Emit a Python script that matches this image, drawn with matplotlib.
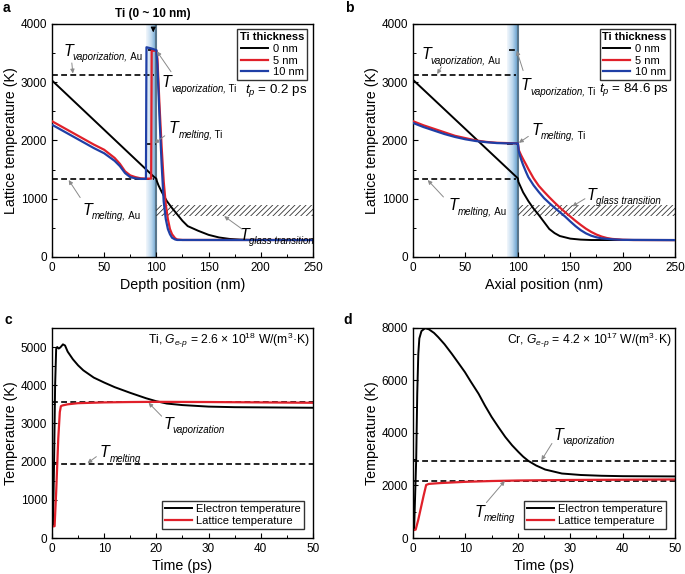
import numpy as np
import matplotlib
matplotlib.use('Agg')
import matplotlib.pyplot as plt
from matplotlib.colors import LinearSegmentedColormap

plt.rcParams['font.family'] = ['Liberation Sans', 'DejaVu Sans']
plt.rcParams['mathtext.fontset'] = 'custom'
plt.rcParams['mathtext.rm'] = 'Liberation Sans'
plt.rcParams['mathtext.it'] = 'Liberation Sans:italic'
plt.rcParams['mathtext.bf'] = 'Liberation Sans:bold'
plt.rcParams['hatch.linewidth'] = 0.6

# ---- panel a: t_p = 0.2 ps (depth position, nm / lattice temperature, K)
a_x0 = [0, 98, 99, 100, 100.5, 102, 105, 110, 115, 120, 125, 130, 140, 150, 160, 170, 180, 190, 200, 250]
a_T0 = [3030, 1370, 1360, 1340, 1300, 1230, 1120, 960, 840, 730, 620, 530, 450, 380, 335, 310, 298, 293, 292, 292]
a_x5 = [0, 10, 20, 30, 40, 50, 60, 65, 70, 75, 80, 85, 90, 95, 95.5, 100, 101, 103, 105, 107, 109, 111, 113, 115, 118, 120, 125, 250]
a_T5 = [2330, 2230, 2130, 2030, 1930, 1840, 1700, 1600, 1470, 1400, 1370, 1350, 1345, 1345, 3540, 3540, 3400, 2600, 1900, 1300, 900, 650, 480, 390, 320, 300, 292, 292]
a_x10 = [0, 10, 20, 30, 40, 50, 60, 65, 70, 75, 80, 85, 90, 90.5, 95, 100, 101, 103, 105, 107, 109, 111, 113, 115, 118, 120, 250]
a_T10 = [2270, 2170, 2070, 1970, 1870, 1780, 1650, 1560, 1440, 1370, 1350, 1340, 1340, 3600, 3580, 3550, 3300, 2400, 1600, 950, 650, 480, 390, 330, 300, 292, 290]

# ---- panel b: t_p = 84.6 ps (axial position)
b_x0 = [0, 100, 100.5, 102, 105, 110, 115, 120, 125, 130, 135, 140, 150, 160, 170, 250]
b_T0 = [3040, 1350, 1290, 1230, 1110, 960, 830, 720, 600, 480, 410, 360, 315, 298, 291, 290]
b_x5 = [0, 10, 20, 30, 40, 50, 60, 70, 80, 90, 100, 101, 103, 105, 108, 110, 115, 120, 125, 130, 135, 140, 145, 150, 155, 160, 165, 170, 175, 180, 185, 190, 200, 210, 250]
b_T5 = [2330, 2260, 2200, 2140, 2080, 2040, 2000, 1975, 1960, 1955, 1950, 1830, 1750, 1680, 1580, 1510, 1350, 1220, 1120, 1025, 935, 850, 770, 695, 620, 550, 485, 430, 385, 350, 325, 310, 296, 291, 290]
b_x10 = [0, 10, 20, 30, 40, 50, 60, 70, 80, 90, 100, 101, 103, 105, 108, 110, 115, 120, 125, 130, 135, 140, 145, 150, 155, 160, 165, 170, 175, 180, 190, 200, 250]
b_T10 = [2300, 2230, 2170, 2110, 2060, 2020, 1990, 1970, 1955, 1950, 1950, 1800, 1680, 1580, 1450, 1370, 1230, 1115, 1010, 925, 845, 770, 695, 610, 530, 460, 405, 365, 338, 320, 303, 294, 290]

# ---- panel c: Ti, two-temperature model
c_te_t = [0, 0.2, 0.4, 0.6, 0.8, 1.0, 1.3, 1.6, 2.1, 2.5, 3, 4, 5, 6, 8, 10, 12, 15, 18, 20, 22, 25, 30, 35, 40, 50]
c_te = [300, 320, 2000, 4000, 4950, 5000, 4960, 4990, 5070, 5040, 4880, 4680, 4520, 4390, 4200, 4070, 3950, 3800, 3660, 3580, 3520, 3480, 3440, 3425, 3420, 3410]
c_tl_t = [0, 0.5, 0.8, 1.0, 1.2, 1.5, 1.7, 2, 3, 5, 10, 15, 20, 30, 40, 50]
c_tl = [300, 310, 1200, 1900, 2600, 3300, 3450, 3470, 3500, 3530, 3550, 3560, 3565, 3560, 3550, 3540]

# ---- panel d: Cr
d_te_t = [0, 0.2, 0.6, 0.8, 1.0, 1.2, 1.6, 2.3, 3, 4, 4.8, 6, 7.4, 8.6, 9.9, 11, 12.5, 13.7, 15, 16.3, 17.6, 18.9, 20.1, 21, 22, 23.5, 25.2, 28.4, 32, 36, 40, 50]
d_te = [300, 300, 3000, 5500, 7000, 7600, 7880, 7990, 7950, 7810, 7650, 7380, 7013, 6680, 6316, 5960, 5494, 5050, 4608, 4220, 3848, 3530, 3278, 3100, 2937, 2760, 2608, 2456, 2400, 2370, 2355, 2345]
d_tl_t = [0, 0.5, 1, 1.5, 2, 2.5, 3, 5, 10, 15, 20, 30, 40, 50]
d_tl = [300, 320, 700, 1150, 1600, 2020, 2060, 2090, 2140, 2170, 2190, 2210, 2220, 2230]

# material constants (K)
T_melt_Au, T_vap_Au = 1337, 3129
T_melt_Ti, T_vap_Ti = 1941, 3560
T_melt_Cr, T_vap_Cr = 2180, 2944
T_glass = (700, 900)

red = '#e0202a'
blue = '#1f3fa6'
arrow_kw = dict(arrowstyle='-|>', color='#8a8a8a', lw=0.7, mutation_scale=6, shrinkA=0, shrinkB=0)
band_cmap = LinearSegmentedColormap.from_list('band', ['#f2f7fc', '#bcd8ee', '#5f9ccc'])
dash = (0, (3.5, 2))


def tlabel(ax, sub, elem, xy):
    # big italic T, italic subscript, then the upright element name
    ax.text(xy[0], xy[1], 'T', fontsize=11.5, style='italic', ha='left', va='baseline')
    s = ax.annotate(sub, xy=xy, xytext=(6.8, -3), textcoords='offset points', fontsize=7.0,
                    style='italic', ha='left', va='baseline')
    if elem:
        ax.annotate(' ' + elem, xy=(1, 0), xycoords=s, fontsize=7.0, ha='left', va='bottom')


def arrow(ax, start, end):
    ax.annotate('', xy=end, xytext=start, arrowprops=arrow_kw)


def style(ax):
    ax.tick_params(direction='in', labelsize=8.5, length=3.5, width=0.8, top=False, right=False)
    ax.tick_params(which='minor', direction='in', length=2, width=0.7, top=False, right=False)
    for sp in ax.spines.values():
        sp.set_linewidth(1.0)


fig = plt.figure(figsize=(6.85, 5.74), dpi=100)
ax_a = fig.add_axes([0.0759, 0.5523, 0.381, 0.406])
ax_b = fig.add_axes([0.603, 0.5523, 0.3825, 0.406])
ax_c = fig.add_axes([0.0759, 0.0627, 0.381, 0.366])
ax_d = fig.add_axes([0.603, 0.0627, 0.3825, 0.366])

# ---------------- a and b
for ax, xs, Ts, xlabel in [(ax_a, (a_x0, a_x5, a_x10), (a_T0, a_T5, a_T10), 'Depth position (nm)'),
                           (ax_b, (b_x0, b_x5, b_x10), (b_T0, b_T5, b_T10), 'Axial position (nm)')]:
    ax.imshow(np.linspace(0, 1, 60).reshape(1, -1), extent=[90, 100, 0, 4000], aspect='auto',
              cmap=band_cmap, zorder=0.5)
    ax.axvline(100, color='#58768c', lw=1.5, zorder=0.6)
    ax.fill_between([100, 250], T_glass[0], T_glass[1], facecolor='none', edgecolor='#333333',
                    hatch='//////', lw=0, zorder=0.7)
    ax.plot([0, 98], [T_vap_Au, T_vap_Au], ls=dash, color='k', lw=1.2, zorder=1)
    ax.plot([0, 98], [T_melt_Au, T_melt_Au], ls=dash, color='k', lw=1.2, zorder=1)
    ax.plot([90, 100], [T_melt_Ti, T_melt_Ti], ls=dash, color='k', lw=1.2, zorder=1)
    ax.plot([92, 100], [T_vap_Ti, T_vap_Ti], ls=dash, color='k', lw=1.2, zorder=1)
    ax.plot(xs[0], Ts[0], color='k', lw=1.4, label='0 nm', zorder=3)
    ax.plot(xs[1], Ts[1], color=red, lw=1.6, label='5 nm', zorder=3)
    ax.plot(xs[2], Ts[2], color=blue, lw=1.6, label='10 nm', zorder=3)
    ax.set_xlim(0, 250)
    ax.set_ylim(0, 4000)
    ax.set_xticks([0, 50, 100, 150, 200, 250])
    ax.set_xticks(np.arange(0, 251, 25), minor=True)
    ax.set_yticks([0, 1000, 2000, 3000, 4000])
    ax.set_yticks(np.arange(0, 4001, 500), minor=True)
    ax.set_xlabel(xlabel, fontsize=10.3, labelpad=3)
    ax.set_ylabel('Lattice temperature (K)', fontsize=10.3, labelpad=2)
    style(ax)
    leg = ax.legend(loc='upper right', title='Ti thickness', fontsize=8, frameon=True, fancybox=False,
                    edgecolor='k', handlelength=2.4, handletextpad=0.4, borderpad=0.25,
                    labelspacing=0.15, borderaxespad=0.5)
    leg.get_title().set_fontweight('bold')
    leg.get_title().set_fontsize(8)
    leg.get_frame().set_linewidth(1.0)

# a annotations
tlabel(ax_a, 'vaporization,', 'Au', (11, 3450))
arrow(ax_a, (19, 3330), (20, 3150))
tlabel(ax_a, 'vaporization,', 'Ti', (105, 2911))
arrow(ax_a, (114, 3180), (100.5, 3530))
tlabel(ax_a, 'melting,', 'Ti', (112, 2120))
arrow(ax_a, (108, 2080), (98, 1950))
tlabel(ax_a, 'melting,', 'Au', (29, 716))
arrow(ax_a, (27, 1020), (16, 1320))
tlabel(ax_a, 'glass transition', None, (180, 300))
arrow(ax_a, (182, 480), (165, 700))
ax_a.text(185, 2865, r'$t_p$ = 0.2 ps', fontsize=9.6, va='center', ha='left')
ax_a.annotate('Ti (0 ~ 10 nm)', xy=(97, 3810), xytext=(97, 4170), fontsize=8.5, fontweight='bold',
              ha='center', va='center', annotation_clip=False,
              arrowprops=dict(arrowstyle='-|>', color='k', lw=0.8, mutation_scale=7, shrinkA=5))

# b annotations
tlabel(ax_b, 'vaporization,', 'Au', (8, 3390))
arrow(ax_b, (27, 3260), (23, 3140))
tlabel(ax_b, 'vaporization,', 'Ti', (103, 2860))
arrow(ax_b, (105, 3200), (99, 3540))
ax_b.text(177.5, 2870, r'$t_p$ = 84.6 ps', fontsize=9.6, va='center', ha='left')
tlabel(ax_b, 'melting,', 'Ti', (113, 2100))
arrow(ax_b, (110, 2070), (101, 1960))
tlabel(ax_b, 'melting,', 'Au', (33.5, 800))
arrow(ax_b, (29, 1030), (14, 1320))
tlabel(ax_b, 'glass transition', None, (165.5, 985))
arrow(ax_b, (164, 1000), (152, 870))

# ---------------- c
ax_c.axhline(T_vap_Ti, color='k', ls=dash, lw=1.2)
ax_c.axhline(T_melt_Ti, color='k', ls=dash, lw=1.2)
ax_c.plot(c_te_t, c_te, color='k', lw=1.4, label='Electron temperature')
ax_c.plot(c_tl_t, c_tl, color=red, lw=1.6, label='Lattice temperature')
ax_c.set_xlim(0, 50)
ax_c.set_ylim(0, 5500)
ax_c.set_xticks(np.arange(0, 51, 10))
ax_c.set_xticks(np.arange(0, 51, 5), minor=True)
ax_c.set_yticks(np.arange(0, 5001, 1000))
ax_c.set_yticks(np.arange(0, 5501, 500), minor=True)
ax_c.set_xlabel('Time (ps)', fontsize=10.3, labelpad=3)
ax_c.set_ylabel('Temperature (K)', fontsize=10.3, labelpad=2)
style(ax_c)
ax_c.text(49.3, 5174, r'Ti, $G_{e\text{-}p}$ = 2.6 × 10$^{18}$ W/(m$^{3}$·K)', fontsize=8.7,
          ha='right', va='center')
tlabel(ax_c, 'vaporization', None, (21.3, 2850))
arrow(ax_c, (21, 3190), (18.5, 3540))
tlabel(ax_c, 'melting', None, (9.2, 2110))
arrow(ax_c, (8.5, 2130), (6.8, 1960))
leg = ax_c.legend(loc='lower right', fontsize=8, frameon=True, fancybox=False, edgecolor='k',
                  handlelength=2.4, handletextpad=0.4, borderpad=0.3, labelspacing=0.15,
                  borderaxespad=0.8)
leg.get_frame().set_linewidth(1.0)

# ---------------- d
ax_d.axhline(T_vap_Cr, color='k', ls=dash, lw=1.2)
ax_d.axhline(T_melt_Cr, color='k', ls=dash, lw=1.2)
ax_d.plot(d_te_t, d_te, color='k', lw=1.4, label='Electron temperature')
ax_d.plot(d_tl_t, d_tl, color=red, lw=1.6, label='Lattice temperature')
ax_d.set_xlim(0, 50)
ax_d.set_ylim(0, 8000)
ax_d.set_xticks(np.arange(0, 51, 10))
ax_d.set_xticks(np.arange(0, 51, 5), minor=True)
ax_d.set_yticks(np.arange(0, 8001, 2000))
ax_d.set_yticks(np.arange(0, 8001, 1000), minor=True)
ax_d.set_xlabel('Time (ps)', fontsize=10.3, labelpad=3)
ax_d.set_ylabel('Temperature (K)', fontsize=10.3, labelpad=2)
style(ax_d)
ax_d.text(49.3, 7522, r'Cr, $G_{e\text{-}p}$ = 4.2 × 10$^{17}$ W/(m$^{3}$·K)', fontsize=8.7,
          ha='right', va='center')
tlabel(ax_d, 'vaporization', None, (26.8, 3730))
arrow(ax_d, (26.5, 3600), (24.5, 2960))
tlabel(ax_d, 'melting', None, (11.8, 795))
arrow(ax_d, (14, 1350), (17.5, 2170))
leg = ax_d.legend(loc='lower right', fontsize=8, frameon=True, fancybox=False, edgecolor='k',
                  handlelength=2.4, handletextpad=0.4, borderpad=0.3, labelspacing=0.15,
                  borderaxespad=0.8)
leg.get_frame().set_linewidth(1.0)

# panel letters
for lab, x, y in [('a', 0.004, 0.986), ('b', 0.503, 0.986), ('c', 0.006, 0.443), ('d', 0.502, 0.443)]:
    fig.text(x, y, lab, fontsize=10, fontweight='bold', ha='left', va='center')

fig.savefig('out.png', dpi=100)
